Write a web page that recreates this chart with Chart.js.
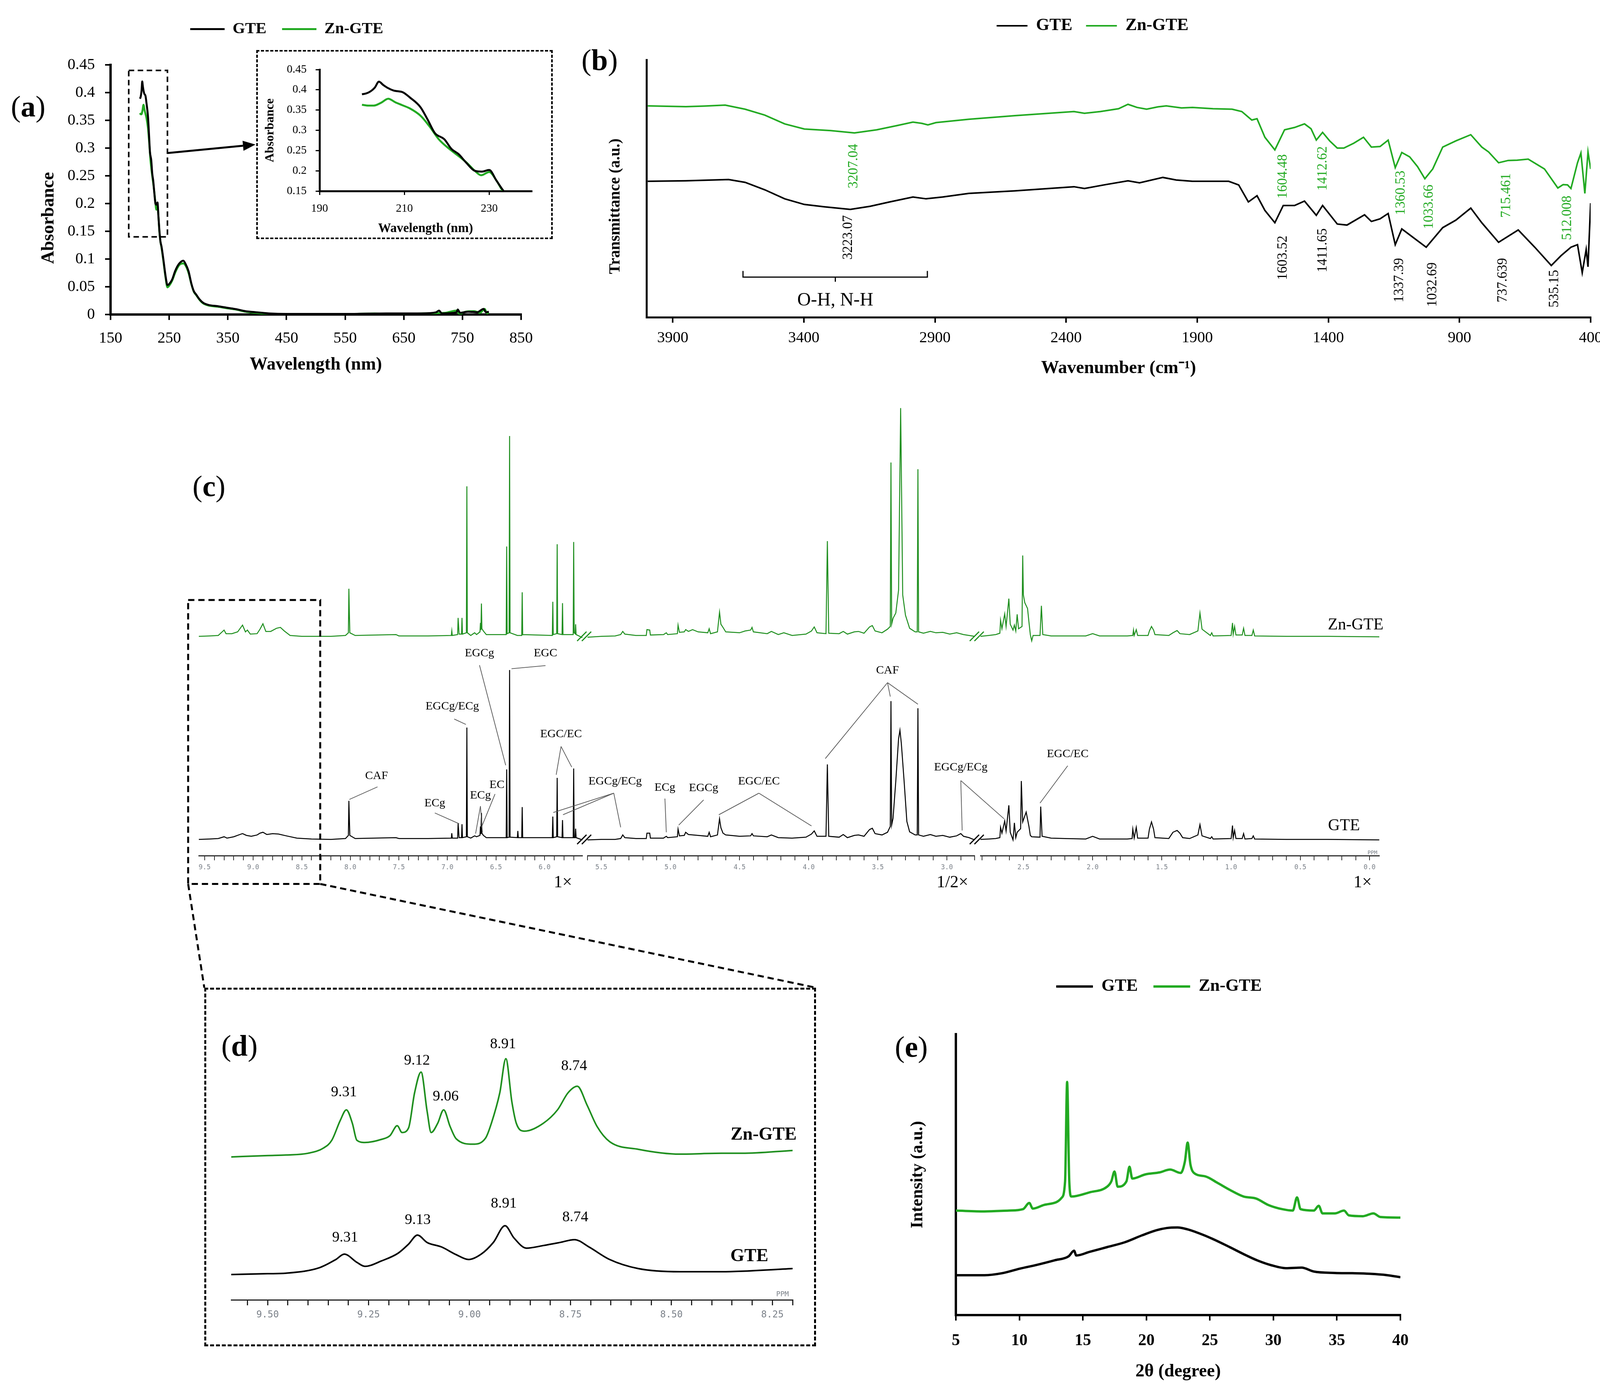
<!DOCTYPE html>
<html lang="en">
<head>
<meta charset="UTF-8">
<title>GTE / Zn-GTE characterisation</title>
<script src="https://cdn.jsdelivr.net/npm/chart.js"></script>
<style>
  html, body { margin: 0; padding: 0; background: #fff; }
  #page { position: relative; width: 4130px; height: 3568px; overflow: hidden; background: #fff;
          font-family: "Liberation Serif", "Times New Roman", serif; }
  .panel { position: absolute; }
  .panel canvas { display: block; }
  .dashed { position: absolute; box-sizing: border-box; border: 5px dashed #000; }
  .tag { position: absolute; font-size: 76px; line-height: 1; transform: translate(-50%, -50%); color: #000; white-space: nowrap; }
  #overlay { position: absolute; left: 0; top: 0; pointer-events: none; }
</style>
</head>
<body>
<div id="page">
  <div class="tag" style="left:72px;top:272px">(<b>a</b>)</div>
  <div class="tag" style="left:1535px;top:153px">(<b>b</b>)</div>
  <div class="tag" style="left:535px;top:1244px">(<b>c</b>)</div>
  <div class="tag" style="left:613px;top:2676px">(<b>d</b>)</div>
  <div class="tag" style="left:2333px;top:2679px">(<b>e</b>)</div>
  <div class="dashed" style="left:523px;top:2528px;width:1566px;height:918px"></div>
</div>
<script>
// ---------- data ----------

// (a) UV-Vis, wavelength (nm) / absorbance
const uvGte = [[200,0.389],[201,0.391],[202,0.396],[203,0.405],[204,0.420],[205,0.412],[206,0.405],[207.5,0.398],[209.6,0.394],[211.3,0.381],[213.8,0.357],[215.5,0.326],[217.2,0.293],[219.4,0.278],[221.1,0.254],[222.8,0.241],[224.5,0.221],[226.6,0.200],[228.3,0.198],[230,0.202],[231.7,0.176],[233.4,0.150],[235,0.132],[237,0.122],[240,0.100],[244,0.068],[247,0.053],[250,0.055],[255,0.063],[260,0.078],[264,0.087],[268,0.093],[274,0.097],[278,0.091],[283,0.078],[288,0.055],[292,0.042],[296,0.036],[302,0.027],[308,0.021],[318,0.017],[333,0.015],[350,0.012],[364,0.0097],[380,0.006],[395,0.0044],[420,0.002],[450,0.001],[500,0.001],[560,0.001],[620,0.002],[680,0.002],[705,0.004],[710,0.007],[715,0.002],[740,0.004],[742,0.009],[746,0.003],[760,0.005],[775,0.004],[786,0.010],[790,0.004],[795,0.005]];
const uvZn = [[200,0.363],[201.5,0.361],[202.8,0.361],[204.5,0.368],[206.2,0.378],[207.9,0.369],[209.5,0.362],[211.3,0.354],[213.8,0.336],[215.9,0.310],[218.1,0.278],[220.6,0.254],[223.2,0.233],[224.9,0.218],[226.6,0.200],[228.1,0.189],[230,0.197],[231.7,0.176],[233.2,0.150],[235,0.132],[237,0.120],[240,0.097],[244,0.065],[247,0.049],[250,0.052],[255,0.061],[260,0.075],[264,0.084],[268,0.090],[274,0.092],[278,0.088],[283,0.075],[288,0.054],[292,0.041],[296,0.035],[302,0.026],[308,0.020],[318,0.016],[333,0.014],[350,0.011],[364,0.009],[380,0.005],[395,0.003],[420,0.001],[450,0.0005],[500,0.0008],[560,0.0008],[600,0.002],[640,0.001],[680,0.002],[720,0.003],[740,0.007],[745,0.001],[755,0.005],[770,0.006],[780,0.003],[788,0.010],[792,0.002],[795,0.004]];
const uvXTicks = [150, 250, 350, 450, 550, 650, 750, 850];
const uvYTicks = [0, 0.05, 0.1, 0.15, 0.2, 0.25, 0.3, 0.35, 0.4, 0.45];
const insetXTicks = [190, 210, 230];
const insetYTicks = [0.15, 0.2, 0.25, 0.3, 0.35, 0.4, 0.45];

// (b) FTIR, wavenumber (cm-1) / transmittance (a.u.)
const ftirZn = [[3995,82.1],[3850,81.8],[3780,82.0],[3700,82.4],[3624,80.8],[3549,78.5],[3473,75.1],[3398,73.1],[3298,72.5],[3207,71.6],[3122,72.8],[3047,74.4],[2984,75.8],[2950,75.3],[2927,74.7],[2896,75.6],[2771,76.9],[2595,78.3],[2370,79.9],[2330,79.2],[2269,79.9],[2200,81.0],[2164,82.7],[2130,81.5],[2093,80.8],[2050,81.7],[2018,82.1],[1960,81.3],[1918,81.5],[1840,81.0],[1767,80.8],[1730,79.9],[1692,76.6],[1672,77.1],[1642,69.9],[1604,65.0],[1567,72.8],[1529,73.7],[1491,75.1],[1466,73.2],[1446,68.8],[1422,71.8],[1395,68.5],[1366,65.7],[1341,65.7],[1303,67.6],[1266,69.9],[1236,66.1],[1203,66.3],[1172,68.8],[1145,58.1],[1120,64.0],[1090,62.3],[1060,58.5],[1032,53.8],[1002,57.6],[964,66.1],[914,68.5],[857,70.9],[815,66.1],[789,64.2],[751,60.0],[714,60.9],[680,61.0],[638,61.4],[576,57.6],[525,50.2],[505,51.5],[488,51.4],[475,50.0],[450,60.0],[437,63.8],[422,48.1],[410,64.2],[400,57.6]];
const ftirGte = [[3995,52.8],[3850,53.0],[3687,53.5],[3624,52.4],[3549,49.5],[3473,46.0],[3398,43.8],[3323,42.9],[3223,41.9],[3147,43.1],[3072,44.8],[2984,46.7],[2934,46.0],[2871,46.7],[2771,48.1],[2595,49.1],[2370,50.7],[2330,50.0],[2250,51.5],[2164,53.0],[2120,52.2],[2031,54.3],[1980,53.3],[1918,52.8],[1780,52.8],[1742,51.4],[1705,44.8],[1672,47.2],[1642,41.5],[1604,36.7],[1572,43.4],[1529,43.4],[1491,45.1],[1446,39.6],[1422,43.4],[1366,36.2],[1329,35.8],[1262,39.8],[1236,37.2],[1203,38.2],[1172,40.3],[1145,28.2],[1120,34.3],[1077,31.0],[1027,27.2],[964,34.8],[914,37.7],[857,42.4],[815,36.7],[751,29.1],[676,33.9],[613,27.2],[550,20.1],[513,23.9],[475,27.2],[450,28.2],[432,17.3],[417,26.3],[410,19.6],[400,44.3]];
const ftirXTicks = [400, 900, 1400, 1900, 2400, 2900, 3400, 3900];
// peak labels: text, wavenumber, height, series
const ftirPeaks = [
  ['3207.04', 3210, 58.7, 'zn'], ['1604.48', 1572, 54.7, 'zn'], ['1412.62', 1421, 57.8, 'zn'],
  ['1360.53', 1122, 48.3, 'zn'], ['1033.66', 1015, 42.9, 'zn'], ['715.461', 721, 47.3, 'zn'],
  ['512.008', 488, 38.6, 'zn'],
  ['3223.07', 3230, 31.0, 'gte'], ['1603.52', 1572, 23.1, 'gte'], ['1411.65', 1421, 26.0, 'gte'],
  ['1337.39', 1128, 14.4, 'gte'], ['1032.69', 1002, 12.7, 'gte'], ['737.639', 734, 14.4, 'gte'],
  ['535.15', 538, 11.1, 'gte']
];

// (c) 1H NMR, three axis segments (ppm / relative intensity)
const nmrZn1 = [[9.56,48.8],[9.45,48.9],[9.36,49.0],[9.33,49.6],[9.30,50.2],[9.28,49.4],[9.22,49.4],[9.16,49.8],[9.11,51.3],[9.08,49.8],[9.06,50.2],[9.03,49.3],[8.96,49.4],[8.93,50.4],[8.90,51.6],[8.87,49.9],[8.82,49.9],[8.76,50.6],[8.72,50.8],[8.68,50.0],[8.62,49.0],[8.5,48.8],[8.2,48.8],[8.05,49.0],[8.02,49.6],[8.015,59.4],[8.005,49.6],[7.95,49.0],[7.53,49.2],[7.50,48.9],[7.20,48.9],[6.96,49.0],[6.955,50.0],[6.95,49.0],[6.895,49.2],[6.89,52.9],[6.88,49.3],[6.855,49.3],[6.85,52.9],[6.845,49.3],[6.805,49.6],[6.80,82.2],[6.795,49.6],[6.76,49.0],[6.72,49.6],[6.70,49.2],[6.665,49.8],[6.66,51.8],[6.655,50.2],[6.65,56.1],[6.645,50.5],[6.63,50.0],[6.60,49.2],[6.395,49.2],[6.39,68.8],[6.385,49.4],[6.365,49.6],[6.36,93.4],[6.355,49.6],[6.28,49.0],[6.235,49.0],[6.23,58.6],[6.225,49.2],[5.92,49.0],[5.915,56.5],[5.91,49.2],[5.875,49.4],[5.87,69.3],[5.865,49.4],[5.82,49.2],[5.815,56.2],[5.81,49.2],[5.705,49.2],[5.70,69.8],[5.695,49.6],[5.685,49.4],[5.68,51.5],[5.675,49.2],[5.61,48.5]];
const nmrGte1 = [[9.56,3.6],[9.45,3.7],[9.36,3.8],[9.33,4.0],[9.30,4.2],[9.27,3.9],[9.20,4.2],[9.15,4.6],[9.11,4.9],[9.07,4.5],[9.02,4.3],[8.96,4.6],[8.93,5.0],[8.90,5.2],[8.86,4.7],[8.80,4.9],[8.74,4.8],[8.66,4.4],[8.55,3.9],[8.40,3.7],[8.20,3.6],[8.05,3.8],[8.02,4.5],[8.015,12.2],[8.005,4.5],[7.95,3.8],[7.53,4.0],[7.50,3.8],[7.20,3.8],[6.96,3.9],[6.955,5.0],[6.95,3.9],[6.895,3.9],[6.89,7.2],[6.88,4.0],[6.855,4.0],[6.85,7.0],[6.845,4.0],[6.805,4.2],[6.80,28.5],[6.795,4.2],[6.76,3.9],[6.72,4.4],[6.70,4.2],[6.665,4.5],[6.66,6.5],[6.655,4.8],[6.65,9.5],[6.645,5.0],[6.63,4.5],[6.60,4.0],[6.395,4.0],[6.39,19.2],[6.385,4.0],[6.365,4.1],[6.36,41.3],[6.355,4.1],[6.28,4.0],[6.275,5.5],[6.27,4.0],[6.235,4.0],[6.23,10.8],[6.225,4.0],[5.92,4.0],[5.915,8.7],[5.91,4.0],[5.875,4.2],[5.87,17.3],[5.865,4.2],[5.82,4.0],[5.815,7.9],[5.81,4.0],[5.705,4.0],[5.70,19.4],[5.695,4.0],[5.685,4.0],[5.68,6.0],[5.675,4.0],[5.61,3.5]];
const nmrZn2 = [[5.60,48.6],[5.50,48.8],[5.40,48.9],[5.36,49.2],[5.345,49.9],[5.33,49.3],[5.25,49.0],[5.175,49.0],[5.17,50.3],[5.15,50.2],[5.145,49.1],[5.05,49.2],[5.03,49.6],[5.02,49.2],[4.95,49.4],[4.945,51.3],[4.935,49.7],[4.90,49.8],[4.89,50.3],[4.87,49.9],[4.84,50.3],[4.80,49.8],[4.73,49.6],[4.72,50.5],[4.71,49.4],[4.66,49.8],[4.645,54.2],[4.635,51.5],[4.62,50.8],[4.60,49.8],[4.50,49.6],[4.46,50.0],[4.42,50.2],[4.41,50.8],[4.40,49.8],[4.30,49.4],[4.27,49.9],[4.22,49.2],[4.18,49.6],[4.12,49.0],[4.02,49.3],[3.98,50.0],[3.96,50.9],[3.94,49.6],[3.875,49.4],[3.865,70.0],[3.855,49.5],[3.78,49.4],[3.75,49.9],[3.72,49.3],[3.67,49.8],[3.64,49.9],[3.60,49.5],[3.56,50.9],[3.54,51.2],[3.52,50.0],[3.47,49.6],[3.43,50.4],[3.41,51.0],[3.405,87.5],[3.40,51.5],[3.39,52.8],[3.37,54.0],[3.35,59.1],[3.335,99.6],[3.32,58.0],[3.30,53.5],[3.27,50.6],[3.23,49.8],[3.215,49.8],[3.21,86.0],[3.205,49.8],[3.17,49.5],[3.12,49.9],[3.08,49.6],[3.03,49.7],[2.98,49.3],[2.93,49.6],[2.88,49.2],[2.84,49.0],[2.80,48.8]];
const nmrGte2 = [[5.60,3.5],[5.50,3.6],[5.40,3.6],[5.36,3.8],[5.345,4.6],[5.33,4.0],[5.25,3.8],[5.175,3.8],[5.17,5.0],[5.15,5.0],[5.145,3.9],[5.05,3.9],[5.03,4.3],[5.02,4.0],[4.95,4.2],[4.945,5.9],[4.935,4.4],[4.90,4.5],[4.89,5.2],[4.87,4.7],[4.80,4.5],[4.73,4.3],[4.72,5.2],[4.71,4.2],[4.66,4.6],[4.645,8.2],[4.635,6.2],[4.62,5.0],[4.60,4.6],[4.50,4.3],[4.42,4.4],[4.41,4.9],[4.40,4.4],[4.30,4.2],[4.27,4.6],[4.22,4.0],[4.12,3.9],[4.02,4.1],[3.98,4.8],[3.96,5.5],[3.94,4.3],[3.875,4.3],[3.865,20.3],[3.855,4.3],[3.78,4.1],[3.75,4.7],[3.72,4.0],[3.67,4.5],[3.64,4.6],[3.60,4.3],[3.56,5.8],[3.54,6.1],[3.52,4.9],[3.47,4.6],[3.43,5.2],[3.41,6.5],[3.405,34.4],[3.40,6.8],[3.39,8.3],[3.37,16.6],[3.35,26.0],[3.34,27.9],[3.33,25.0],[3.31,16.6],[3.29,7.6],[3.27,5.3],[3.23,4.6],[3.215,4.6],[3.21,32.8],[3.205,4.6],[3.17,4.3],[3.12,4.7],[3.08,4.3],[3.03,4.5],[2.98,4.1],[2.93,4.4],[2.90,4.9],[2.88,4.3],[2.84,4.0],[2.80,3.5]];
const nmrZn3 = [[2.81,48.8],[2.75,49.0],[2.70,49.2],[2.67,49.5],[2.665,52.4],[2.655,50.5],[2.635,53.8],[2.625,51.0],[2.605,57.2],[2.595,51.5],[2.575,50.2],[2.565,51.3],[2.555,50.0],[2.545,53.7],[2.535,50.5],[2.51,51.0],[2.505,66.8],[2.50,58.0],[2.49,56.3],[2.47,55.0],[2.46,52.0],[2.45,49.2],[2.44,47.8],[2.43,49.0],[2.38,49.0],[2.37,55.6],[2.36,49.2],[2.30,48.9],[2.20,48.9],[2.05,48.9],[2.00,49.4],[1.95,48.9],[1.75,48.9],[1.71,49.0],[1.705,50.2],[1.70,49.0],[1.685,50.3],[1.675,49.0],[1.60,49.0],[1.59,50.0],[1.575,51.0],[1.56,50.2],[1.55,49.2],[1.45,49.0],[1.42,49.6],[1.39,50.1],[1.37,49.4],[1.30,49.2],[1.24,50.0],[1.225,54.0],[1.21,50.4],[1.15,49.0],[1.14,49.6],[1.13,48.9],[1.00,49.0],[0.99,51.8],[0.985,49.3],[0.975,51.0],[0.965,49.1],[0.92,49.1],[0.91,50.6],[0.90,49.0],[0.85,49.0],[0.84,50.2],[0.83,48.9],[0.60,48.8],[0.30,48.8],[-0.07,48.7]];
const nmrGte3 = [[2.81,3.6],[2.75,3.7],[2.70,3.8],[2.67,4.0],[2.665,6.3],[2.655,5.0],[2.635,7.7],[2.625,5.5],[2.605,11.2],[2.595,5.2],[2.575,3.5],[2.565,7.3],[2.555,4.0],[2.545,5.2],[2.52,6.0],[2.515,16.6],[2.505,7.5],[2.48,9.7],[2.46,6.5],[2.45,4.5],[2.44,4.2],[2.38,4.1],[2.375,10.9],[2.365,4.3],[2.30,3.9],[2.20,3.8],[2.05,3.7],[2.00,4.3],[1.95,3.7],[1.75,3.7],[1.715,3.8],[1.71,5.9],[1.70,3.9],[1.685,6.3],[1.675,3.9],[1.60,3.9],[1.59,5.9],[1.575,7.5],[1.56,5.9],[1.55,4.0],[1.45,3.8],[1.42,5.2],[1.39,5.6],[1.37,5.0],[1.35,4.0],[1.30,3.8],[1.24,4.6],[1.225,6.9],[1.21,4.4],[1.15,3.8],[1.14,4.2],[1.13,3.7],[1.00,3.8],[0.99,6.7],[0.985,4.0],[0.975,5.6],[0.965,3.8],[0.92,3.8],[0.91,4.9],[0.90,3.7],[0.85,3.8],[0.84,4.4],[0.83,3.7],[0.60,3.6],[0.30,3.6],[-0.07,3.5]];
// assignments: label, label position, leader start, leader tips (ppm, height)
const nmrNotes = [
  ['CAF', [7.73, 17.7], [7.72, 15.3], [[8.01, 12.5]]],
  ['ECg', [7.13, 11.6], [7.13, 9.5], [[6.88, 7.1]]],
  ['EGCg/ECg', [6.95, 33.2], [6.93, 30.4], [[6.81, 29.2]]],
  ['EGCg', [6.67, 45.0], [6.67, 42.4], [[6.40, 20.1]]],
  ['EGC', [5.99, 45.0], [5.99, 42.3], [[6.34, 41.6]]],
  ['ECg', [6.66, 13.4], [6.66, 11.0], [[6.71, 4.9], [6.64, 5.2]]],
  ['EC', [6.49, 15.7], [6.51, 13.7], [[6.65, 6.3]]],
  ['EGC/EC', [5.83, 27.0], [5.83, 24.3], [[5.88, 18.0], [5.72, 19.7]]],
  ['EGCg/ECg', [5.40, 16.5], [5.41, 13.9], [[5.91, 9.6], [5.81, 9.1], [5.36, 6.3]]],
  ['ECg', [5.04, 15.1], [5.04, 12.7], [[5.03, 5.2]]],
  ['EGCg', [4.76, 15.0], [4.76, 12.4], [[4.94, 6.8]]],
  ['EGC/EC', [4.36, 16.5], [4.36, 13.9], [[4.65, 9.1], [3.98, 6.6]]],
  ['CAF', [3.43, 41.2], [3.43, 38.5], [[3.88, 21.6], [3.41, 35.4], [3.21, 33.7]]],
  ['EGCg/ECg', [2.90, 19.6], [2.90, 16.7], [[2.89, 5.6], [2.64, 8.2]]],
  ['EGC/EC', [2.18, 22.6], [2.18, 20.0], [[2.38, 11.7]]]
];

// (d) NMR detail 9.6-8.2 ppm
const zoomZn = [[9.592,50.3],[9.50,50.8],[9.454,51.0],[9.40,51.6],[9.361,53.5],[9.341,56.2],[9.32,63.2],[9.305,66.9],[9.29,62.1],[9.279,56.2],[9.259,55.4],[9.218,56.5],[9.197,57.8],[9.179,61.3],[9.167,58.9],[9.151,60.5],[9.136,72.9],[9.12,80.2],[9.105,66.4],[9.095,58.9],[9.079,62.1],[9.064,66.9],[9.048,61.0],[9.033,56.7],[8.992,54.8],[8.96,57.0],[8.946,62.1],[8.925,72.9],[8.91,84.9],[8.895,69.6],[8.884,62.1],[8.864,59.4],[8.818,62.1],[8.782,66.9],[8.756,72.9],[8.733,75.2],[8.709,68.6],[8.684,61.0],[8.653,55.7],[8.582,53.0],[8.479,51.3],[8.376,51.6],[8.325,51.6],[8.199,52.6]];
const zoomGte = [[9.592,8.9],[9.50,9.2],[9.454,9.4],[9.372,11.3],[9.331,14.2],[9.31,16.1],[9.279,13.2],[9.259,11.8],[9.218,13.7],[9.177,16.4],[9.151,19.6],[9.129,22.8],[9.105,20.2],[9.069,18.6],[9.033,15.9],[9.002,14.2],[8.971,16.1],[8.941,20.2],[8.912,26.1],[8.89,21.8],[8.859,18.2],[8.818,19.1],[8.776,20.2],[8.74,21.2],[8.704,18.6],[8.653,14.2],[8.582,11.0],[8.479,9.9],[8.376,9.9],[8.199,11.0]];
const zoomPeaks = [['9.31', 9.311, 73.0], ['9.12', 9.130, 84.2], ['9.06', 9.059, 71.5], ['8.91', 8.917, 90.0], ['8.74', 8.741, 82.3],
                   ['9.31', 9.308, 21.8], ['9.13', 9.128, 28.0], ['8.91', 8.915, 33.8], ['8.74', 8.738, 29.0]];

// (e) XRD, 2theta (degree) / intensity (a.u.)
const xrdZn = [[5.0,37.2],[7.25,36.9],[9.18,37.2],[10.29,37.7],[10.78,39.9],[11.06,37.9],[11.94,39.2],[12.91,40.2],[13.32,41.7],[13.6,47.6],[13.76,83.0],[13.93,47.6],[14.09,42.2],[15.53,43.7],[16.91,45.7],[17.24,47.6],[17.49,51.1],[17.74,45.7],[18.43,47.6],[18.67,52.8],[18.89,48.6],[19.94,50.1],[21.04,50.8],[21.87,51.8],[22.7,50.6],[23.03,54.6],[23.25,61.4],[23.47,53.6],[23.8,50.4],[24.63,49.4],[25.59,47.1],[26.56,44.6],[27.66,42.2],[28.63,41.5],[29.6,39.2],[30.7,37.7],[31.53,37.2],[31.86,41.9],[32.14,37.7],[33.18,37.2],[33.57,38.9],[33.87,36.2],[34.84,36.2],[35.56,37.2],[35.94,35.5],[37.05,35.2],[37.87,36.2],[38.43,34.9],[40,34.7]];
const xrdGte = [[5.0,14.2],[7.25,14.2],[8.63,14.9],[10.01,16.5],[11.39,17.9],[12.77,19.5],[13.87,20.9],[14.31,22.9],[14.48,21.2],[15.53,22.5],[16.91,24.2],[18.29,25.9],[19.67,28.4],[20.79,30.2],[21.62,31.0],[22.45,31.2],[23.25,30.5],[24.1,29.2],[25.18,27.2],[26.56,24.2],[27.66,21.7],[28.77,19.4],[29.87,17.7],[30.98,16.7],[32.22,16.9],[33.18,15.5],[34.84,15.0],[36.22,14.9],[37.59,14.7],[38.98,14.2],[40,13.5]];
const xrdXTicks = [5, 10, 15, 20, 25, 30, 35, 40];

// ---------- styling / helpers ----------
const BLACK = '#000000';
const GREEN = '#22aa22';
const NMR_GREEN = '#1f8f1f';
const SERIF = '"Liberation Serif", "Times New Roman", serif';
const MONO = '"DejaVu Sans Mono", monospace';
const TICK_GREY = '#7b8189';

Chart.defaults.font.family = SERIF;
Chart.defaults.color = '#000';
Chart.defaults.animation = false;
Chart.defaults.responsive = true;
Chart.defaults.maintainAspectRatio = false;
Chart.defaults.devicePixelRatio = 1;
Chart.defaults.events = [];
Chart.defaults.plugins.tooltip.enabled = false;
Chart.defaults.plugins.legend.display = false;

function series(label, pts, color, width, smooth) {
  return {
    label, data: pts.map(p => ({ x: p[0], y: p[1] })),
    borderColor: color, backgroundColor: color, borderWidth: width,
    pointRadius: 0, fill: false, tension: 0,
    cubicInterpolationMode: smooth ? 'monotone' : 'default'
  };
}

function legendOpts(size, pad, lineW) {
  return {
    display: true, position: 'top',
    labels: { usePointStyle: true, pointStyle: 'line', pointStyleWidth: lineW, boxHeight: size,
              padding: pad, color: '#000', font: { size, weight: 'bold' } }
  };
}

// extra space under the legend
function legendGap(extra) {
  return {
    id: 'legendGap',
    beforeInit(chart) {
      const fit = chart.legend.fit;
      chart.legend.fit = function () { fit.call(this); this.height += extra; };
    }
  };
}

function tickGrid(len, w, color) {
  return { display: true, drawOnChartArea: false, drawTicks: true, tickLength: len, lineWidth: w, color: color || '#000' };
}

function spacer(w) {
  return { position: 'right', display: true, ticks: { display: false }, grid: { display: false },
           border: { display: false }, afterFit: s => { s.width = w; } };
}

const fmt = v => String(+v.toFixed(2));
const fixTicks = list => s => { s.ticks = list.map(v => ({ value: v })); };

const page = document.getElementById('page');
function makePanel(box) {
  const div = document.createElement('div');
  div.className = 'panel';
  div.style.left = box.left + 'px';
  div.style.top = box.top + 'px';
  div.style.width = box.width + 'px';
  div.style.height = box.height + 'px';
  const cv = document.createElement('canvas');
  div.appendChild(cv);
  page.appendChild(div);
  return cv;
}

// ---------- (a) UV-Vis ----------
const boxA = { left: 0, top: 0, width: 1468, height: 1000 };
const chartA = new Chart(makePanel(boxA), {
  type: 'line',
  data: { datasets: [series('GTE', uvGte, BLACK, 5, true), series('Zn-GTE', uvZn, GREEN, 5, true)] },
  options: {
    layout: { padding: { top: 14, left: 0, right: 0, bottom: 0 } },
    plugins: { legend: legendOpts(41, 40, 88) },
    scales: {
      x: {
        type: 'linear', min: 150, max: 850,
        afterBuildTicks: fixTicks(uvXTicks), afterFit: s => { s.height = 195; },
        ticks: { font: { size: 40 }, padding: 23, autoSkip: false, maxRotation: 0, callback: fmt },
        grid: tickGrid(14, 4), border: { color: '#000', width: 6 },
        title: { display: true, text: 'Wavelength (nm)', font: { size: 46, weight: 'bold' }, padding: { top: 0, bottom: 38 } }
      },
      y: {
        min: 0, max: 0.45,
        afterBuildTicks: fixTicks(uvYTicks), afterFit: s => { s.width = 283; },
        ticks: { font: { size: 40 }, padding: 26, autoSkip: false, callback: fmt },
        grid: tickGrid(14, 4), border: { color: '#000', width: 6 }
      },
      yR: spacer(134)
    }
  },
  plugins: [legendGap(61)]
});

// inset 190-240 nm
const boxInset = { left: 656, top: 128, width: 759, height: 484 };
const chartInset = new Chart(makePanel(boxInset), {
  type: 'line',
  data: { datasets: [series('GTE', uvGte, BLACK, 5, true), series('Zn-GTE', uvZn, GREEN, 5, true)] },
  options: {
    layout: { padding: { top: 50, left: 0, right: 54, bottom: 0 } },
    scales: {
      x: {
        type: 'linear', min: 190, max: 240,
        afterBuildTicks: fixTicks(insetXTicks), afterFit: s => { s.height = 123; },
        ticks: { font: { size: 29 }, padding: 18, autoSkip: false, maxRotation: 0, callback: fmt },
        grid: tickGrid(10, 3), border: { color: '#000', width: 5 },
        title: { display: true, text: 'Wavelength (nm)', font: { size: 33, weight: 'bold' }, padding: { top: 0, bottom: 7 } }
      },
      y: {
        min: 0.15, max: 0.45,
        afterBuildTicks: fixTicks(insetYTicks), afterFit: s => { s.width = 162; },
        ticks: { font: { size: 29 }, padding: 23, autoSkip: false, callback: fmt },
        grid: tickGrid(10, 3), border: { color: '#000', width: 5 },
        title: { display: true, text: 'Absorbance', font: { size: 32, weight: 'bold' }, padding: { top: 17, bottom: 0 } }
      }
    }
  }
});
const insetFrame = document.createElement('div');
insetFrame.className = 'dashed';
Object.assign(insetFrame.style, { left: '656px', top: '128px', width: '759px', height: '484px', borderWidth: '4px' });
page.appendChild(insetFrame);

// ---------- (b) FTIR ----------
const boxB = { left: 1482, top: 0, width: 2630, height: 1000 };
const chartB = new Chart(makePanel(boxB), {
  type: 'line',
  data: { datasets: [series('GTE', ftirGte, BLACK, 4, false), series('Zn-GTE', ftirZn, GREEN, 4, false)] },
  options: {
    layout: { padding: { top: 9, left: 0, right: 0, bottom: 0 } },
    plugins: { legend: legendOpts(44, 35, 79) },
    scales: {
      x: {
        type: 'linear', min: 400, max: 4000, reverse: true,
        afterBuildTicks: fixTicks(ftirXTicks), afterFit: s => { s.height = 188; },
        ticks: { font: { size: 40 }, padding: 15, autoSkip: false, maxRotation: 0, callback: v => String(v) },
        grid: tickGrid(14, 4), border: { color: '#000', width: 5 },
        title: { display: true, text: 'Wavenumber (cm\u207B\u00B9)', font: { size: 46, weight: 'bold' }, padding: { top: 0, bottom: 29 } }
      },
      y: {
        min: 0, max: 100, afterFit: s => { s.width = 173; },
        ticks: { display: false }, grid: { display: false }, border: { color: '#000', width: 5 }
      },
      yR: spacer(40)
    }
  },
  plugins: [legendGap(55)]
});

// ---------- (c) NMR, broken axis ----------
const nmrTickLabel = v => (Math.abs(v * 2 - Math.round(v * 2)) < 1e-6 ? v.toFixed(1) : '');
function tenths(from, to) { const t = []; for (let i = from; i <= to; i++) t.push(i / 10); return t; }
const segTicks = [tenths(57, 95), tenths(28, 56), tenths(0, 28)];
const segRanges = [[5.61, 9.56], [2.80, 5.60], [-0.07, 2.81]];
const segZn = [nmrZn1, nmrZn2, nmrZn3];
const segGte = [nmrGte1, nmrGte2, nmrGte3];
const segBoxes = [
  { left: 469, top: 1040, width: 1062, height: 1210 },
  { left: 1464, top: 1040, width: 1071, height: 1210 },
  { left: 2470, top: 1040, width: 1101, height: 1210 }
];
const segCharts = segBoxes.map((box, i) => new Chart(makePanel(box), {
  type: 'line',
  data: { datasets: [series('Zn-GTE', segZn[i], NMR_GREEN, 2.5, false), series('GTE', segGte[i], BLACK, 2.5, false)] },
  options: {
    layout: { padding: { top: 0, left: 40, right: 40, bottom: 0 } },
    scales: {
      x: {
        type: 'linear', reverse: true, min: segRanges[i][0], max: segRanges[i][1],
        afterBuildTicks: fixTicks(segTicks[i]), afterFit: s => { s.height = 60; },
        ticks: { font: { family: MONO, size: 17 }, color: TICK_GREY, padding: 8, autoSkip: false, maxRotation: 0, callback: nmrTickLabel },
        grid: tickGrid(12, 2, '#333'), border: { color: '#333', width: 3 }
      },
      y: { display: false, min: 0, max: 100 }
    }
  }
}));

// ---------- (d) NMR detail ----------
const boxD = { left: 552, top: 2600, width: 1517, height: 797 };
const dTicks = []; for (let i = 164; i <= 191; i++) dTicks.push(i / 20);
const chartD = new Chart(makePanel(boxD), {
  type: 'line',
  data: { datasets: [series('Zn-GTE', zoomZn, NMR_GREEN, 4, true), series('GTE', zoomGte, BLACK, 4, true)] },
  options: {
    layout: { padding: { top: 0, left: 40, right: 40, bottom: 0 } },
    scales: {
      x: {
        type: 'linear', reverse: true, min: 8.20, max: 9.59,
        afterBuildTicks: fixTicks(dTicks), afterFit: s => { s.height = 70; },
        ticks: { font: { family: MONO, size: 24 }, color: TICK_GREY, padding: 10, autoSkip: false, maxRotation: 0,
                 callback: v => (Math.abs(v * 4 - Math.round(v * 4)) < 1e-6 ? v.toFixed(2) : '') },
        grid: tickGrid(14, 3, '#222'), border: { color: '#222', width: 3 }
      },
      y: { display: false, min: 0, max: 100 }
    }
  }
});

// ---------- (e) XRD ----------
const boxE = { left: 2240, top: 2440, width: 1454, height: 1128 };
const chartE = new Chart(makePanel(boxE), {
  type: 'line',
  data: { datasets: [series('GTE', xrdGte, BLACK, 6, true), series('Zn-GTE', xrdZn, GREEN, 6, true)] },
  options: {
    layout: { padding: { top: 23, left: 0, right: 0, bottom: 0 } },
    plugins: { legend: legendOpts(44, 40, 94) },
    scales: {
      x: {
        type: 'linear', min: 5, max: 40,
        afterBuildTicks: fixTicks(xrdXTicks), afterFit: s => { s.height = 202; },
        ticks: { font: { size: 42, weight: 'bold' }, padding: 27, autoSkip: false, maxRotation: 0, callback: v => String(v) },
        grid: tickGrid(14, 4), border: { color: '#000', width: 6 },
        title: { display: true, text: '2\u03B8 (degree)', font: { size: 46, weight: 'bold' }, padding: { top: 0, bottom: 29 } }
      },
      y: {
        min: 0, max: 100, afterFit: s => { s.width = 207; },
        ticks: { display: false }, grid: { display: false }, border: { color: '#000', width: 6 },
        title: { display: true, text: 'Intensity (a.u.)', font: { size: 44, weight: 'bold' }, padding: { top: 83, bottom: 0 } }
      },
      yR: spacer(109)
    }
  },
  plugins: [legendGap(90)]
});

// ---------- overlay: boxes, arrows, annotations ----------
function pt(ch, box, xv, yv) {
  return [box.left + ch.scales.x.getPixelForValue(xv), box.top + ch.scales.y.getPixelForValue(yv)];
}
function nmrPt(ppm, v) {
  const s = ppm >= 5.605 ? 0 : (ppm >= 2.805 ? 1 : 2);
  return pt(segCharts[s], segBoxes[s], ppm, v);
}
function text(g, str, x, y, font, color, align, rot) {
  g.save();
  g.font = font;
  g.fillStyle = color || '#000';
  g.textAlign = align || 'center';
  g.textBaseline = 'middle';
  g.translate(x, y);
  if (rot) g.rotate(rot);
  g.fillText(str, 0, 0);
  g.restore();
}
function line(g, x1, y1, x2, y2) { g.beginPath(); g.moveTo(x1, y1); g.lineTo(x2, y2); g.stroke(); }

const overlay = document.createElement('canvas');
overlay.id = 'overlay';
overlay.width = 4130;
overlay.height = 3568;
page.appendChild(overlay);
const g = overlay.getContext('2d');

// y titles of (a) and (b) sit below the middle of their axes
text(g, 'Absorbance', 125, 558, 'bold 46px ' + SERIF, '#000', 'center', -Math.PI / 2);
text(g, 'Transmittance (a.u.)', 1576, 528, 'bold 40px ' + SERIF, '#000', 'center', -Math.PI / 2);

// (a) highlighted region + arrow to inset
{
  const [x1, y1] = pt(chartA, boxA, 181, 0.44);
  const [x2, y2] = pt(chartA, boxA, 247, 0.14);
  g.strokeStyle = '#000'; g.lineWidth = 4; g.setLineDash([14, 9]);
  g.strokeRect(x1, y1, x2 - x1, y2 - y1);
  g.setLineDash([]);
  const [sx, sy] = pt(chartA, boxA, 247, 0.291);
  const ex = boxInset.left - 2, ey = 370;
  const ang = Math.atan2(ey - sy, ex - sx);
  const hx = ex - 32 * Math.cos(ang), hy = ey - 32 * Math.sin(ang);
  g.lineWidth = 5;
  line(g, sx, sy, hx, hy);
  g.fillStyle = '#000';
  g.beginPath();
  g.moveTo(ex, ey);
  g.lineTo(hx + 13 * Math.sin(ang), hy - 13 * Math.cos(ang));
  g.lineTo(hx - 13 * Math.sin(ang), hy + 13 * Math.cos(ang));
  g.closePath(); g.fill();
}

// (b) peak labels and O-H, N-H bracket
ftirPeaks.forEach(([t, wn, v, s]) => {
  const [x, y] = pt(chartB, boxB, wn, v);
  text(g, t, x, y, '35px ' + SERIF, s === 'zn' ? GREEN : BLACK, 'center', -Math.PI / 2);
});
{
  const [x1, yb] = pt(chartB, boxB, 3632, 15.6);
  const [x2] = pt(chartB, boxB, 2929, 15.6);
  const [, yt] = pt(chartB, boxB, 3632, 18.0);
  const [xc] = pt(chartB, boxB, 3280, 15.6);
  g.strokeStyle = '#000'; g.lineWidth = 3;
  g.beginPath(); g.moveTo(x1, yt); g.lineTo(x1, yb); g.lineTo(x2, yb); g.lineTo(x2, yt); g.stroke();
  line(g, xc, yb, xc, yb + 12);
  const [tx, ty] = pt(chartB, boxB, 3280, 6.4);
  text(g, 'O-H, N-H', tx, ty, '48px ' + SERIF, '#000');
}

// (c) zoom frame and connectors to (d)
{
  const [x1, y1] = nmrPt(9.67, 56.9);
  const [x2, y2] = nmrPt(8.31, -6.3);
  g.strokeStyle = '#000'; g.lineWidth = 5; g.setLineDash([16, 10]);
  g.strokeRect(x1, y1, x2 - x1, y2 - y1);
  line(g, x1, y2, 523, 2528);
  line(g, x2, y2, 2089, 2528);
  g.setLineDash([]);
}

// (c) assignments
g.strokeStyle = '#555'; g.lineWidth = 1.8;
nmrNotes.forEach(([t, at, from, tips]) => {
  const [tx, ty] = nmrPt(at[0], at[1]);
  text(g, t, tx, ty, '30px ' + SERIF, '#000');
  const [fx, fy] = nmrPt(from[0], from[1]);
  tips.forEach(tp => { const [px, py] = nmrPt(tp[0], tp[1]); line(g, fx, fy, px, py); });
});

// (c) axis-break marks on both traces
[[0, 1], [1, 2]].forEach(([a, b]) => {
  const xa = pt(segCharts[a], segBoxes[a], segRanges[a][0], 0)[0];
  const xb = pt(segCharts[b], segBoxes[b], segRanges[b][1], 0)[0];
  const cx = (xa + xb) / 2;
  [[48.8, NMR_GREEN], [3.6, BLACK]].forEach(([v, col]) => {
    const y = pt(segCharts[a], segBoxes[a], segRanges[a][0], v)[1];
    g.strokeStyle = col; g.lineWidth = 3;
    line(g, cx - 20, y + 12, cx + 4, y - 12);
    line(g, cx - 8, y + 12, cx + 16, y - 12);
  });
});

// (c) trace names, scale factors, unit
{
  let p = nmrPt(-0.10, 51.3); text(g, 'Zn-GTE', p[0], p[1], '42px ' + SERIF, '#000', 'right');
  p = nmrPt(0.07, 6.6); text(g, 'GTE', p[0], p[1], '42px ' + SERIF, '#000', 'right');
  p = nmrPt(5.81, -6.0); text(g, '1\u00D7', p[0], p[1], '44px ' + SERIF, '#000');
  p = nmrPt(2.96, -6.0); text(g, '1/2\u00D7', p[0], p[1], '44px ' + SERIF, '#000');
  p = nmrPt(0.05, -6.0); text(g, '1\u00D7', p[0], p[1], '44px ' + SERIF, '#000');
  p = nmrPt(-0.02, 0.6); text(g, 'PPM', p[0], p[1], '14px ' + MONO, TICK_GREY);
}

// (d) peak labels and trace names
zoomPeaks.forEach(([t, ppm, v]) => {
  const [x, y] = pt(chartD, boxD, ppm, v);
  text(g, t, x, y, '38px ' + SERIF, '#000');
});
{
  let p = pt(chartD, boxD, 8.19, 58.0); text(g, 'Zn-GTE', p[0], p[1], 'bold 46px ' + SERIF, '#000', 'right');
  p = pt(chartD, boxD, 8.26, 15.3); text(g, 'GTE', p[0], p[1], 'bold 46px ' + SERIF, '#000', 'right');
  p = pt(chartD, boxD, 8.225, 1.9); text(g, 'PPM', p[0], p[1], '18px ' + MONO, TICK_GREY);
}
</script>
</body>
</html>
